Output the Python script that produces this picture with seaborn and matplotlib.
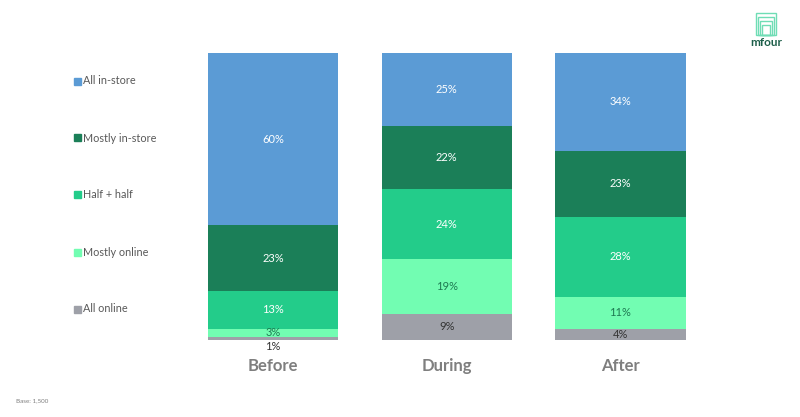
import matplotlib
matplotlib.use("Agg")
import matplotlib.pyplot as plt
import seaborn as sns
import pandas as pd
import numpy as np
from matplotlib.patches import Rectangle

periods = ["Before", "During", "After"]
segments = ["All online", "Mostly online", "Half + half", "Mostly in-store", "All in-store"]  # bottom -> top
all_online = [1, 9, 4]
mostly_online = [3, 19, 11]
half_half = [13, 24, 28]
mostly_instore = [23, 22, 23]
all_instore = [60, 25, 34]

colors = {
    "All in-store": "#5B9BD5",
    "Mostly in-store": "#1B7F58",
    "Half + half": "#23CC8A",
    "Mostly online": "#72FDB2",
    "All online": "#9EA0A8",
}
label_colors = {
    "All in-store": "white",
    "Mostly in-store": "white",
    "Half + half": "white",
    "Mostly online": "#1E7A52",
    "All online": "#333333",
}

df = pd.DataFrame({
    "period": periods,
    "All online": all_online,
    "Mostly online": mostly_online,
    "Half + half": half_half,
    "Mostly in-store": mostly_instore,
    "All in-store": all_instore,
})
totals = df[segments].sum(axis=1)
norm = df[segments].div(totals, axis=0) * 100
cum = norm.cumsum(axis=1)

sns.set_theme(style="white")
plt.rcParams["font.family"] = ["Lato", "DejaVu Sans"]

fig = plt.figure(figsize=(8, 4.17), dpi=100)
ax = fig.add_axes([0.233, 0.1847, 0.651, 0.688])

for seg in reversed(segments):
    d = pd.DataFrame({"period": periods, "val": cum[seg].values})
    sns.barplot(data=d, x="period", y="val", color=colors[seg], width=0.75,
                saturation=1, ax=ax, order=periods, linewidth=0, edgecolor="none")

for i, p in enumerate(periods):
    for seg in segments:
        v = df.loc[i, seg]
        top = cum.loc[i, seg]
        h = norm.loc[i, seg]
        y = top - h / 2
        if v <= 1:
            y = top - h - 2.4
        ax.text(i, y, f"{v}%", ha="center", va="center", fontsize=8,
                color=label_colors[seg])

ax.set_xlim(-0.5, 2.5)
ax.set_ylim(0, 100)
ax.set_xlabel("")
ax.set_ylabel("")
ax.set_yticks([])
ax.set_xticks(range(len(periods)))
ax.set_xticklabels(periods, fontsize=12, fontweight="bold", color="#7F7F7F")
ax.tick_params(axis="x", length=0, pad=13)
for s in ax.spines.values():
    s.set_visible(False)

# legend on left
leg_y = [81, 138, 195, 252, 309]
for seg, yp in zip(reversed(segments), leg_y):
    fy = 1 - yp / 417
    fig.patches.append(Rectangle((74 / 800, fy - 3.5 / 417), 7 / 800, 7 / 417,
                                 transform=fig.transFigure, color=colors[seg]))
    fig.text(83 / 800, fy, seg, fontsize=7.8, color="#595959", va="center", ha="left")

fig.text(16 / 800, 1 - 401 / 417, "Base: 1,500", fontsize=4.5, color="#7F7F7F", va="center")

# logo
for k in range(4):
    w = 20 - k * 4
    h = 22 - k * 4
    fig.patches.append(Rectangle(((766 - w / 2) / 800, 1 - 35 / 417), w / 800, h / 417,
                                 transform=fig.transFigure, fill=False, edgecolor="#6FDDB5", lw=1.0))
fig.text(766 / 800, 1 - 43 / 417, "mfour", fontsize=8.5, fontweight="bold", color="#1E5F4A",
         ha="center", va="center")

fig.savefig("out.png", dpi=100)
